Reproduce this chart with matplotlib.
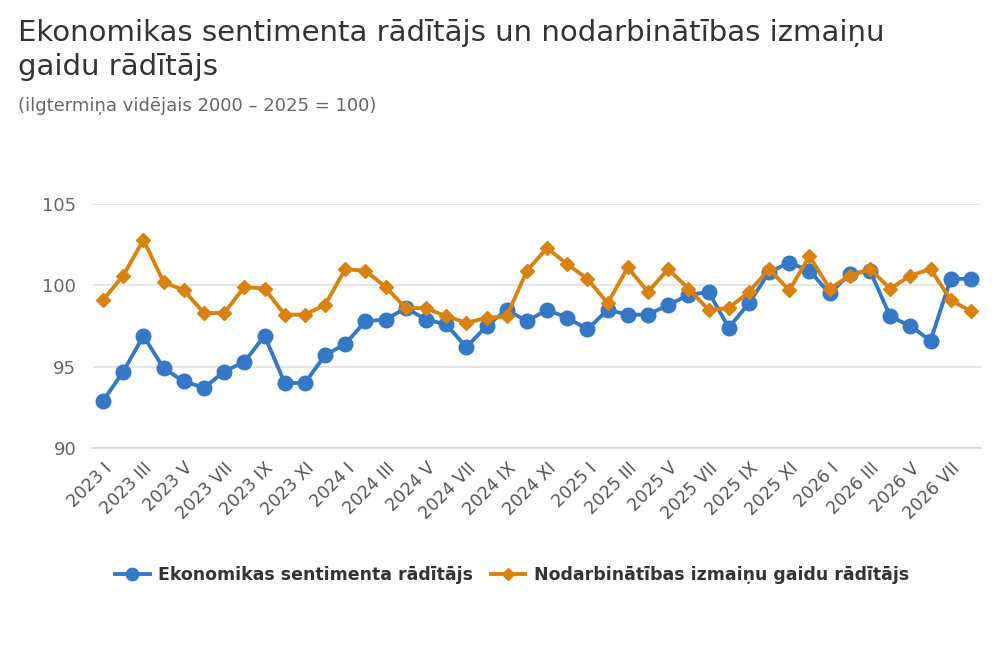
import matplotlib
matplotlib.use("Agg")
import matplotlib.pyplot as plt

romans = ["I", "II", "III", "IV", "V", "VI", "VII", "VIII", "IX", "X", "XI", "XII"]
months = [f"{y} {r}" for y in (2023, 2024, 2025) for r in romans] + [f"2026 {r}" for r in romans[:8]]

sentiment = [92.9, 94.7, 96.9, 94.9, 94.1, 93.7, 94.7, 95.3, 96.9, 94.0, 94.0, 95.7,
             96.4, 97.8, 97.9, 98.6, 97.9, 97.6, 96.2, 97.5, 98.5, 97.8, 98.5, 98.0,
             97.3, 98.5, 98.2, 98.2, 98.8, 99.4, 99.6, 97.4, 98.9, 100.8, 101.4, 100.9,
             99.5, 100.7, 100.9, 98.1, 97.5, 96.6, 100.4, 100.4]
employment = [99.1, 100.6, 102.8, 100.2, 99.7, 98.3, 98.3, 99.9, 99.8, 98.2, 98.2, 98.8,
              101.0, 100.9, 99.9, 98.6, 98.6, 98.1, 97.7, 98.0, 98.1, 100.9, 102.3, 101.3,
              100.4, 98.9, 101.1, 99.6, 101.0, 99.8, 98.5, 98.6, 99.6, 101.0, 99.7, 101.8,
              99.8, 100.6, 101.0, 99.8, 100.6, 101.0, 99.1, 98.4]
yticks = [90, 95, 100, 105]

blue = "#3478C6"
orange = "#D9820F"

fig = plt.figure(figsize=(10, 6.67), dpi=100)
ax = fig.add_axes([0.093, 0.3283, 0.888, 0.3658])
x = list(range(len(months)))
ax.plot(x, sentiment, color=blue, lw=2.8, marker="o", ms=10.5, label="Ekonomikas sentimenta rādītājs", zorder=3)
ax.plot(x, employment, color=orange, lw=2.8, marker="D", ms=7.5, label="Nodarbinātības izmaiņu gaidu rādītājs", zorder=4)

ax.set_xlim(-0.5, len(months) - 0.5)
ax.set_ylim(90, 105)
ax.set_yticks(yticks)
ax.set_yticklabels([str(v) for v in yticks], fontsize=13, color="#666666")
ax.set_xticks(x[::2])
ax.set_xticklabels(months[::2], rotation=45, ha="right", rotation_mode="anchor", fontsize=12.5, color="#555555")
ax.tick_params(axis="both", length=0, pad=12)
ax.tick_params(axis="x", pad=8)
ax.grid(axis="y", color="#E2E2E2", lw=1.2)
ax.set_axisbelow(True)
for s in ("top", "right", "left"):
    ax.spines[s].set_visible(False)
ax.spines["bottom"].set_color("#CCD6EB")
ax.spines["bottom"].set_linewidth(1.2)
for ln in ax.lines:
    ln.set_clip_on(False)

fig.text(0.018, 0.972, "Ekonomikas sentimenta rādītājs un nodarbinātības izmaiņu\ngaidu rādītājs",
         fontsize=21, color="#333333", va="top", ha="left", linespacing=1.28)
fig.text(0.018, 0.855, "(ilgtermiņa vidējais 2000 – 2025 = 100)", fontsize=13, color="#666666", va="top", ha="left")

leg = fig.legend(loc="center", bbox_to_anchor=(0.512, 0.138), ncol=2, frameon=False,
                 prop={"size": 12.5, "weight": "bold"}, handlelength=2.0, columnspacing=1.0,
                 handletextpad=0.5, markerscale=0.85)
for t in leg.get_texts():
    t.set_color("#333333")

fig.savefig("out.png", dpi=100, facecolor="white")
